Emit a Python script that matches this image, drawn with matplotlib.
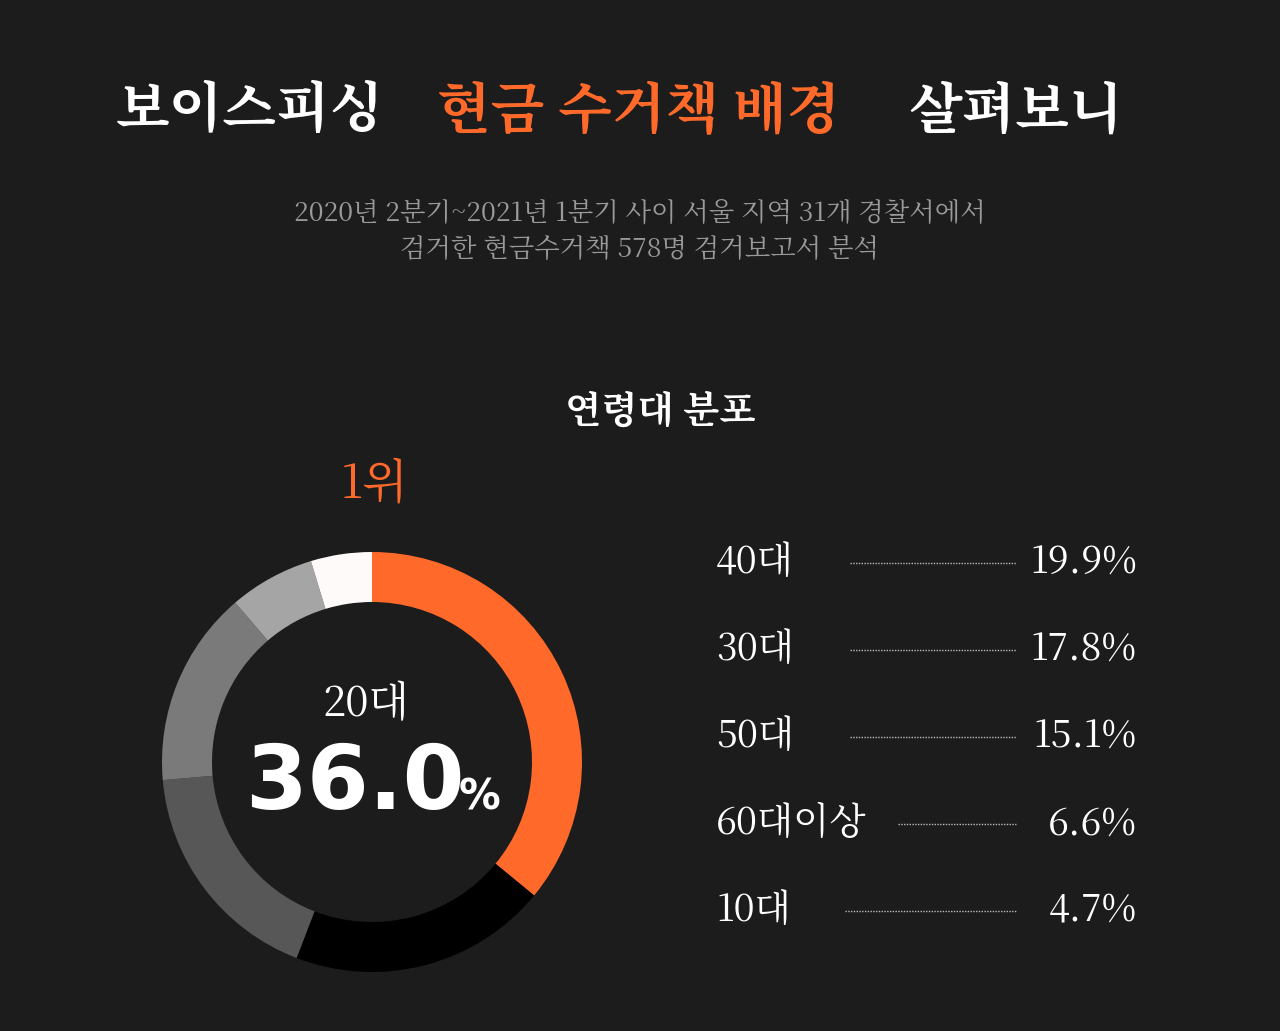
import matplotlib
matplotlib.use("Agg")
import matplotlib.pyplot as plt
from matplotlib import font_manager as fm

ages = ["20대", "40대", "30대", "50대", "60대이상", "10대"]
shares = [36.0, 19.9, 17.8, 15.1, 6.6, 4.7]
colors = ["#ff6a2b", "#000000", "#575757", "#7a7a7a", "#a5a5a5", "#fffafa"]
list_labels = ["40대", "30대", "50대", "60대이상", "10대"]
list_values = [19.9, 17.8, 15.1, 6.6, 4.7]

# locate a CJK font
cands = [f for f in fm.fontManager.ttflist if "CJK" in f.name]
pref = [f for f in cands if "KR" in f.name] or cands
KR = pref[0].name if pref else "DejaVu Sans"
plt.rcParams["font.family"] = [KR, "DejaVu Sans"]

BG = "#1c1c1c"
W, H = 1280, 1031
fig = plt.figure(figsize=(W/100, H/100), dpi=100, facecolor=BG)

def fx(x): return x / W
def fy(y): return 1 - y / H

fig.text(fx(116), fy(112), "보이스피싱", fontsize=40, fontweight="bold", color="white",
         family=KR, ha="left", va="center")
fig.text(fx(437), fy(112), "현금 수거책 배경", fontsize=40, fontweight="bold",
         color="#ff6a2b", family=KR, ha="left", va="center")
fig.text(fx(908), fy(112), "살펴보니", fontsize=40, fontweight="bold", color="white",
         family=KR, ha="left", va="center")
fig.text(0.5, fy(214), "2020년 2분기~2021년 1분기 사이 서울 지역 31개 경찰서에서",
         fontsize=19, color="#9a9a9a", family=KR, ha="center", va="center")
fig.text(0.5, fy(250), "검거한 현금수거책 578명 검거보고서 분석",
         fontsize=19, color="#9a9a9a", family=KR, ha="center", va="center")
fig.text(fx(660), fy(412), "연령대 분포", fontsize=27, fontweight="bold", color="white",
         family=KR, ha="center", va="center")

ax = fig.add_axes([fx(162), 59/H, 420/W, 420/H])
ax.set_facecolor(BG)
ax.pie(shares, colors=colors, startangle=90, counterclock=False, radius=1,
       wedgeprops=dict(width=50/210, linewidth=0))
ax.set_aspect("equal")
ax.set_xlim(-1, 1); ax.set_ylim(-1, 1)
ax.axis("off")

fig.text(fx(366), fy(705), ages[0], fontsize=30, color="white", family=KR,
         ha="center", va="center")
fig.text(fx(355), fy(785), f"{shares[0]:.1f}", fontsize=64, fontweight="bold",
         color="white", family="DejaVu Sans", ha="center", va="center")
fig.text(fx(480), fy(798), "%", fontsize=30, fontweight="bold", color="white",
         family="DejaVu Sans", ha="center", va="center")
fig.text(fx(375), fy(485), "1위", fontsize=34, color="#ff6a2b", family=KR,
         ha="center", va="center")

ys = [563, 650, 737, 824, 911]
line_start = [850, 850, 850, 898, 845]
for lab, val, y, xs in zip(list_labels, list_values, ys, line_start):
    fig.text(fx(716), fy(y), lab, fontsize=27, color="white", family=KR,
             ha="left", va="center")
    fig.text(fx(1137), fy(y), f"{val}%", fontsize=27, color="white", family=KR,
             ha="right", va="center")
    fig.add_artist(plt.Line2D([fx(xs), fx(1016)], [fy(y), fy(y)], color="#bbbbbb",
                              linestyle=(0, (1, 1)), linewidth=1))

fig.savefig("out.png", dpi=100, facecolor=BG)
